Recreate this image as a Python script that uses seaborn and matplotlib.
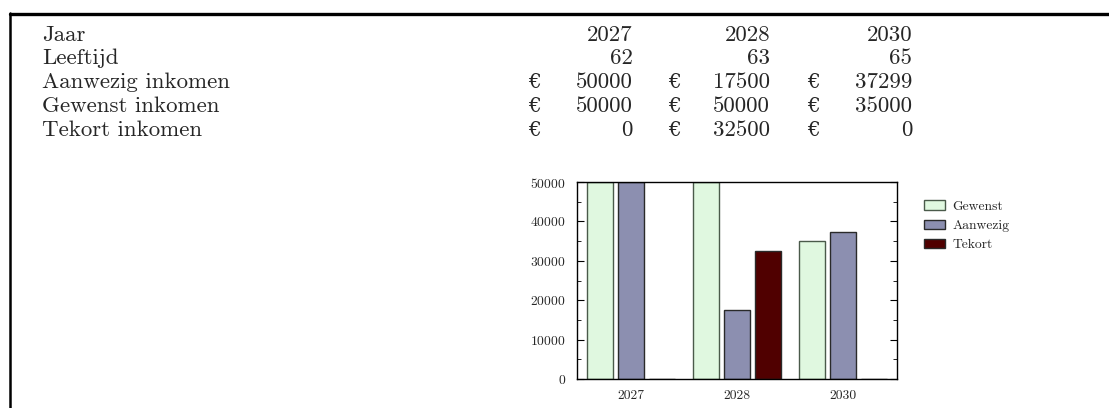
import matplotlib
matplotlib.use("Agg")
import matplotlib.pyplot as plt
from matplotlib.lines import Line2D
from matplotlib.ticker import MultipleLocator
import pandas as pd
import seaborn as sns

jaren = ["2027", "2028", "2030"]
leeftijd = [62, 63, 65]
aanwezig = [50000, 17500, 37299]
gewenst = [50000, 50000, 35000]
tekort = [0, 32500, 0]

rij_labels = ["Jaar", "Leeftijd", "Aanwezig inkomen", "Gewenst inkomen", "Tekort inkomen"]
soorten = ["Gewenst", "Aanwezig", "Tekort"]
kleuren = ["#e0f8e0", "#8c8fb0", "#500000"]

sns.set_style("white")
plt.rcParams["font.family"] = ["cmr10", "DejaVu Serif"]
plt.rcParams["axes.formatter.use_mathtext"] = True
plt.rcParams["mathtext.fontset"] = "cm"

W, H = 1109, 408
fig = plt.figure(figsize=(W / 100, H / 100), dpi=100)

def px(x, y):
    return x / W, 1 - y / H

# frame lines (top and left)
fig.add_artist(Line2D([10 / W, 1], [1 - 13.5 / H, 1 - 13.5 / H], color="black", lw=2.4))
fig.add_artist(Line2D([10 / W, 10 / W], [1 - 13 / H, 0], color="black", lw=1.8))

# the table above the chart
rij_y = [35, 58, 82, 106, 130]
num_x = [633, 770, 912]
euro_x = [528, 668, 807]
rijen = [jaren, leeftijd, aanwezig, gewenst, tekort]
fs = 16.5
for i, (label, waarden) in enumerate(zip(rij_labels, rijen)):
    x, y = px(42, rij_y[i])
    fig.text(x, y, label, fontsize=fs, va="center", ha="left")
    for j, v in enumerate(waarden):
        x, y = px(num_x[j], rij_y[i])
        fig.text(x, y, str(v), fontsize=fs, va="center", ha="right")
        if i >= 2:
            x, y = px(euro_x[j], rij_y[i])
            fig.text(x, y, "€", fontsize=fs - 2, va="center", ha="left",
                     family=["DejaVu Serif"])

# chart
df = pd.DataFrame({
    "Jaar": jaren * 3,
    "Bedrag": gewenst + aanwezig + tekort,
    "Soort": [s for s in soorten for _ in jaren],
})

ax = fig.add_axes([577 / W, 1 - 379 / H, 320 / W, 197 / H])
sns.barplot(
    data=df,
    x="Jaar",
    y="Bedrag",
    hue="Soort",
    hue_order=soorten,
    palette=kleuren,
    width=0.88,
    gap=0.16,
    edgecolor="#2a2a2a",
    linewidth=1.0,
    saturation=1,
    ax=ax,
)
for bar in ax.patches:
    if bar.get_facecolor()[:3] == matplotlib.colors.to_rgb(kleuren[0]):
        bar.set_edgecolor("#4a5a4a")

ax.set_ylim(0, 50000)
ax.set_xlim(-0.51, 2.51)
ax.yaxis.set_major_locator(MultipleLocator(10000))
ax.yaxis.set_minor_locator(MultipleLocator(5000))
ax.tick_params(axis="y", which="both", direction="in", left=True, right=True,
               labelsize=9.8, color="black", pad=8)
ax.tick_params(axis="y", which="major", length=5)
ax.tick_params(axis="y", which="minor", length=3)
ax.tick_params(axis="x", length=0, labelsize=9.8, pad=8)
ax.set_xlabel("")
ax.set_ylabel("")
for s in ax.spines.values():
    s.set_visible(True)
    s.set_color("black")
    s.set_linewidth(1.0)

handles, labels = ax.get_legend_handles_labels()
ax.legend(handles, labels, loc="upper left", bbox_to_anchor=px(919, 195),
          bbox_transform=fig.transFigure, frameon=False, fontsize=9.8,
          handlelength=1.5, handleheight=0.7, labelspacing=0.48, handletextpad=0.55,
          borderaxespad=0)

fig.savefig("out.png", dpi=100)
